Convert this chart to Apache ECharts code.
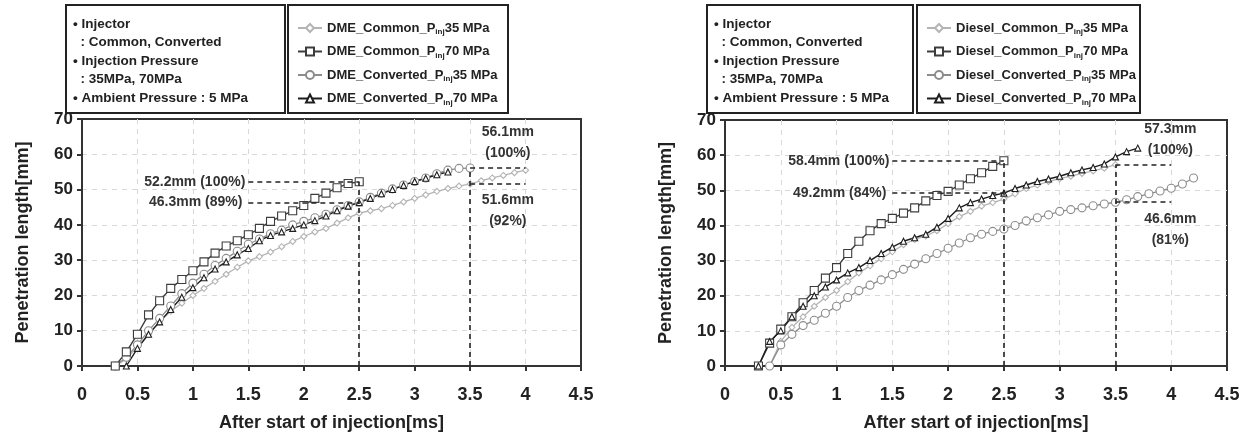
<!DOCTYPE html>
<html>
<head>
<meta charset="utf-8">
<script src="https://cdn.jsdelivr.net/npm/echarts@6/dist/echarts.min.js"></script>
<style>
  html, body { margin: 0; padding: 0; background: #fff; }
  #main { width: 1256px; height: 437px; }
</style>
</head>
<body>
<div id="main"></div>
<script>
// shared time grid [ms]
const times = [0.3,0.4,0.5,0.6,0.7,0.8,0.9,1.0,1.1,1.2,1.3,1.4,1.5,1.6,1.7,1.8,1.9,2.0,2.1,2.2,
  2.3,2.4,2.5,2.6,2.7,2.8,2.9,3.0,3.1,3.2,3.3,3.4,3.5,3.6,3.7,3.8,3.9,4.0,4.1,4.2];

// DME (left) - penetration length [mm]
const dmeCommon35 = [0,2,5.5,9,12.5,15.5,17.8,20,22,24,26,28,29.8,31,32.3,33.8,35.3,36.7,38,39,
  40.5,42,43.3,44,44.6,45.5,46.5,47.5,48.5,49.5,50.3,51,51.6,52.5,53.3,54,54.8,55.5];   // from 0.3
const dmeCommon70 = [0,4,9,14.5,18.5,22,24.5,27,29.5,32,34,35.5,37.2,39,41,42.5,44,45.5,47.5,49,
  50.5,51.7,52.2];                                                                       // from 0.3
const dmeConv35 = [0,2.5,6,10,13.5,17,20.5,23.5,26,28.5,30.5,32.5,34.5,36,37.5,38.5,40,41,42,43,
  44.3,45.5,46.5,47.8,49,50.2,51.3,52.3,53.3,54.5,55.5,56,56.1];                          // from 0.3
const dmeConv70 = [0,5,9,12.5,16,19.5,22.2,25,27.5,29.5,31.5,33.3,35.5,37,38,39,40,41.2,42.5,44,
  45.3,46.3,47.5,48.8,50,51.2,52.3,53.2,54.2,55];                                         // from 0.4

// Diesel (right)
const dslCommon35 = [0,7,11,14,17,19.5,21.5,24,26.5,28.5,30.5,32.5,34.5,36,37,38.5,40.5,42.5,44,
  45.5,46.5,47.5,49,50.5,51.5,52.5,53.3,54,54.8,55.5,56.3,57.3];                          // from 0.4
const dslCommon70 = [0,6.5,10.5,14,18,21.5,25,28,32,35.5,38.5,40.5,42,43.5,45,47,48.5,49.7,51.5,
  53.3,55,56.8,58.4];                                                                     // from 0.3
const dslConv35 = [0,6,9,11.5,13,15,17,19.5,21.5,23,24.5,26,27.5,29,30.5,32,33.5,35,36.5,37.5,
  38.3,39,40,41.3,42.2,43,44,44.5,45,45.6,46.1,46.6,47.3,48.2,49,49.8,50.6,51.8,53.5];     // from 0.4
const dslConv70 = [0,7,10,14,17,20,22.5,24.5,26.5,28,30,32,33.8,35.5,36.5,37.5,39.5,42,45,46.5,
  47.5,48.5,49.2,50.5,51.5,52.5,53.2,54,55,55.8,56.5,57.5,59.5,61,62];                    // from 0.3

// reference values marked with dashed lines
const dmeRef = { t1: 2.5, t2: 3.5, a: 52.2, b: 46.3, c: 56.1, d: 51.6 };
const dslRef = { t1: 2.5, t2: 3.5, a: 58.4, b: 49.2, c: 57.3, d: 46.6 };
const dmeText = ['52.2mm (100%)', '46.3mm (89%)', '56.1mm\n(100%)', '51.6mm\n(92%)'];
const dslText = ['58.4mm (100%)', '49.2mm (84%)', '57.3mm\n(100%)', '46.6mm\n(81%)'];

const infoLines = ['\u2022 Injector', '  : Common, Converted', '\u2022 Injection Pressure',
  '  : 35MPa, 70MPa', '\u2022 Ambient Pressure : 5 MPa'];

function pairs(start, vals){
  let i0 = times.indexOf(start);
  return vals.map((v,i)=>[times[i0+i], v]);
}

const FONT = '"Liberation Sans", Arial, sans-serif';
const kinds = {
  c35: { color:'#b4b4b4', symbol:'diamond', size:6, w:1.3 },
  c70: { color:'#3c3c3c', symbol:'rect', size:8, w:1.4 },
  v35: { color:'#8c8c8c', symbol:'circle', size:8, w:1.3 },
  v70: { color:'#1e1e1e', symbol:'triangle', size:6, w:1.4 }
};

function mkSeries(name, kind, data, idx, extra){
  let k = kinds[kind];
  return Object.assign({
    name: name, type:'line', xAxisIndex: idx, yAxisIndex: idx,
    data: data, symbol: k.symbol, symbolSize: k.size, showAllSymbol: true,
    lineStyle:{ color:k.color, width:k.w },
    itemStyle:{ color:'#fff', borderColor:k.color, borderWidth:1.1 },
    animation:false, z: 3
  }, extra || {});
}

function refLines(r, txt, off1, off2){
  const ls = { type:[5,4], color:'#222', width:1.6 };
  const lab = { fontFamily:FONT, fontWeight:'bold', fontSize:14, color:'#333', lineHeight:21 };
  return {
    silent:true, symbol:['none','none'], animation:false, lineStyle: ls,
    data:[
      [{ coord:[1.5, r.a], label:Object.assign({ show:true, position:'start', formatter:txt[0], distance:3 }, lab) },
       { coord:[r.t1, r.a] }],
      [{ coord:[1.5, r.b], label:Object.assign({ show:true, position:'start', formatter:txt[1], distance:6 }, lab) },
       { coord:[r.t1, r.b] }],
      [{ coord:[r.t1, 0] }, { coord:[r.t1, r.a] }],
      [{ coord:[r.t2, 0] }, { coord:[r.t2, r.c] }],
      [{ coord:[r.t2, r.c], label:Object.assign({ show:true, position:'insideMiddleTop', formatter:txt[2], distance:4, offset:[off1,0] }, lab) },
       { coord:[4.0, r.c] }],
      [{ coord:[r.t2, r.d], label:Object.assign({ show:true, position:'insideMiddleBottom', formatter:txt[3], distance:6, offset:[off2,0] }, lab) },
       { coord:[4.0, r.d] }]
    ]
  };
}

function legendName(fuel, inj, p){ return fuel + '_' + inj + '_Pinj' + p + ' MPa'; }

const names = {
  L: [legendName('DME','Common',35), legendName('DME','Common',70), legendName('DME','Converted',35), legendName('DME','Converted',70)],
  R: [legendName('Diesel','Common',35), legendName('Diesel','Common',70), legendName('Diesel','Converted',35), legendName('Diesel','Converted',70)]
};

const grids = [
  { left:82, top:119, width:499, height:254 },
  { left:725, top:120, width:502, height:252 }
];

function xAx(i){
  return {
    type:'value', gridIndex:i, min:0, max:4.5, interval:0.5,
    name:'After start of injection[ms]', nameLocation:'middle', nameGap:48,
    nameTextStyle:{ fontFamily:FONT, fontWeight:'bold', fontSize:18, color:'#222' },
    axisLine:{ lineStyle:{ color:'#333', width:2 } },
    axisTick:{ show:true, length:5, lineStyle:{ color:'#333', width:2 } },
    axisLabel:{ fontFamily:FONT, fontWeight:'bold', fontSize:18, color:'#222', margin:20 },
    splitLine:{ show:true, showMinLine:false, showMaxLine:false, lineStyle:{ color:'#d8d8d8', type:[5,5], width:1 } }
  };
}
function yAx(i){
  return {
    type:'value', gridIndex:i, min:0, max:70, interval:10,
    name:'Penetration length[mm]', nameLocation:'middle', nameGap:50,
    nameTextStyle:{ fontFamily:FONT, fontWeight:'bold', fontSize:18, color:'#222' },
    axisLine:{ lineStyle:{ color:'#333', width:2 } },
    axisTick:{ show:true, length:5, lineStyle:{ color:'#333', width:2 } },
    axisLabel:{ fontFamily:FONT, fontWeight:'bold', fontSize:17, color:'#222', margin:9 },
    splitLine:{ show:true, showMinLine:false, showMaxLine:false, lineStyle:{ color:'#d8d8d8', type:[5,5], width:1 } }
  };
}

function legend(list, left){
  return {
    data: list, orient:'vertical', left:left, top:15, itemGap:7.5,
    itemWidth:24, itemHeight:10, selectedMode:false,
    formatter: function(n){
      let m = n.match(/^(.*_P)inj(.*)$/);
      return '{a|' + m[1] + '}{s|inj}{a|' + m[2] + '}';
    },
    textStyle:{
      lineHeight:16,
      rich:{
        a:{ fontFamily:FONT, fontWeight:'bold', fontSize:13, color:'#222' },
        s:{ fontFamily:FONT, fontWeight:'bold', fontSize:8, color:'#222', padding:[8,0,0,0] }
      }
    }
  };
}

function infoBox(x0, w0, x1, w1){
  let els = [
    { type:'rect', shape:{ x:x0, y:5, width:w0, height:108 }, style:{ fill:'#fff', stroke:'#222', lineWidth:2 }, z:0 },
    { type:'rect', shape:{ x:x1, y:5, width:w1, height:108 }, style:{ fill:'#fff', stroke:'#222', lineWidth:2 }, z:0 }
  ];
  infoLines.forEach((s,i)=>{
    els.push({ type:'text', x:x0+7, y:24 + i*18.5, z:1,
      style:{ text:s, font:'bold 13.5px ' + FONT, fill:'#222', verticalAlign:'middle' } });
  });
  return els;
}

let chart = echarts.init(document.getElementById('main'), null, { renderer:'canvas' });

chart.setOption({
  backgroundColor:'#fff',
  animation:false,
  grid: grids.map(g=>Object.assign({ show:true, borderColor:'#333', borderWidth:2, backgroundColor:'transparent' }, g)),
  xAxis:[xAx(0), xAx(1)],
  yAxis:[yAx(0), yAx(1)],
  legend:[ legend(names.L, 292), legend(names.R, 921) ],
  graphic: infoBox(66, 219, 288, 220).concat(infoBox(707, 206, 917, 223)),
  series:[
    mkSeries(names.L[0], 'c35', pairs(0.3, dmeCommon35), 0),
    mkSeries(names.L[2], 'v35', pairs(0.3, dmeConv35), 0),
    mkSeries(names.L[1], 'c70', pairs(0.3, dmeCommon70), 0),
    mkSeries(names.L[3], 'v70', pairs(0.4, dmeConv70), 0, { markLine: refLines(dmeRef, dmeText, 10, 10) }),
    mkSeries(names.R[0], 'c35', pairs(0.4, dslCommon35), 1),
    mkSeries(names.R[2], 'v35', pairs(0.4, dslConv35), 1),
    mkSeries(names.R[1], 'c70', pairs(0.3, dslCommon70), 1),
    mkSeries(names.R[3], 'v70', pairs(0.3, dslConv70), 1, { markLine: refLines(dslRef, dslText, 27, 27) })
  ]
});
</script>
</body>
</html>
